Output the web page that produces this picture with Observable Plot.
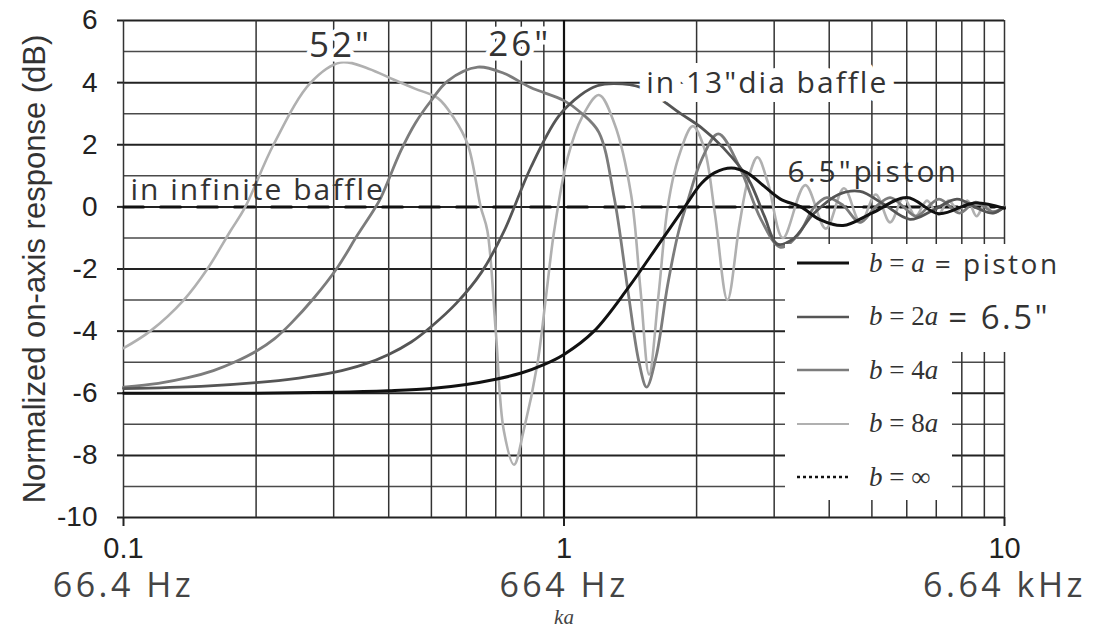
<!DOCTYPE html>
<html>
<head>
<meta charset="utf-8">
<script src="https://cdn.jsdelivr.net/npm/d3@7"></script>
<script src="https://cdn.jsdelivr.net/npm/@observablehq/plot@0.6"></script>
<style>
  body { margin: 0; background: #fff; }
  #chart { position: relative; width: 1098px; height: 627px; overflow: hidden; }
  .anno text { letter-spacing: 2px; }
  .anno-wide text { letter-spacing: 3px; }
  .freq text { letter-spacing: 3.5px; }
  .lg-bg { position: absolute; background: #fff; }
  .lg-row { position: absolute; display: flex; align-items: center; height: 40px; white-space: nowrap; }
  .lg-row svg { margin-right: 20px; }
  .lg-math { font-family: "Liberation Serif", "Times New Roman", serif; font-size: 27px; color: #333; }
  .lg-math i { font-style: italic; }
  .lg-note { font-family: "Open Sans", sans-serif; color: #333; margin-left: 10px; letter-spacing: 2.5px; }
</style>
</head>
<body>
<div id="chart"></div>
<script>
// ka = wavenumber × piston radius; response in dB, normalised on axis
// b = a : bare piston (6.5")
const kaPiston = [0.1, 0.2, 0.3, 0.4, 0.5, 0.6, 0.7, 0.8, 0.9, 1.0, 1.17, 1.4, 1.66, 1.88, 2.05, 2.2, 2.4, 2.6, 2.8, 3.1, 3.45, 3.8, 4.3, 5.0, 6.0, 7.1, 8.5, 10];
const dbPiston = [-6.0, -6.0, -5.97, -5.92, -5.85, -5.72, -5.55, -5.35, -5.08, -4.75, -4.0, -2.6, -1.1, 0, 0.75, 1.1, 1.25, 1.1, 0.75, 0.25, 0, -0.4, -0.6, -0.2, 0.3, -0.22, 0.12, -0.05];

// b = 2a : 13" diameter baffle
const ka2a = [0.1, 0.15, 0.2, 0.25, 0.3, 0.35, 0.4, 0.45, 0.5, 0.57, 0.65, 0.73, 0.84, 0.97, 1.09, 1.19, 1.3, 1.5, 1.84, 2.05, 2.3, 2.62, 2.85, 3.05, 3.3, 3.7, 4.2, 4.7, 5.3, 6.1, 6.9, 7.8, 8.7, 9.4, 10];
const db2a = [-5.85, -5.78, -5.66, -5.51, -5.33, -5.08, -4.75, -4.35, -3.85, -3.1, -2.1, -0.8, 1.26, 2.9, 3.6, 3.9, 3.97, 3.84, 3.0, 2.55, 1.9, 0.9, -0.3, -1.2, -1.05, -0.2, 0.4, 0.5, 0.1, -0.4, -0.1, 0.25, -0.05, -0.2, 0];

// b = 4a : 26" baffle
const ka4a = [0.1, 0.12, 0.14, 0.16, 0.18, 0.2, 0.22, 0.24, 0.27, 0.306, 0.34, 0.37, 0.384, 0.426, 0.46, 0.498, 0.545, 0.637, 0.73, 0.84, 1.0, 1.1, 1.2, 1.3, 1.4, 1.48, 1.54, 1.62, 1.72, 1.82, 1.91, 2.05, 2.24, 2.5, 2.8, 3.1, 3.4, 3.7, 3.95, 4.3, 4.7, 5.1, 5.5, 5.9, 6.3, 7.1, 7.9, 8.6, 9.4, 10];
const db4a = [-5.8, -5.68, -5.5, -5.27, -4.98, -4.65, -4.25, -3.75, -2.95, -1.95, -0.9, -0.1, 0.3, 1.8, 2.7, 3.4, 4.06, 4.5, 4.3, 3.84, 3.42, 3.0, 2.4, 0.3, -2.8, -5.0, -5.8, -4.8, -2.5, -0.8, 0.2, 1.5, 2.35, 1.3, -0.4, -1.3, -0.9, 0, 0.3, 0.05, -0.5, 0, 0.3, 0, -0.3, 0.25, -0.2, 0.15, -0.15, 0];

// b = 8a : 52" baffle
const ka8a = [0.1, 0.115, 0.137, 0.155, 0.175, 0.189, 0.219, 0.266, 0.311, 0.36, 0.41, 0.46, 0.517, 0.56, 0.605, 0.647, 0.67, 0.70, 0.73, 0.77, 0.81, 0.87, 0.91, 0.95, 1.02, 1.1, 1.2, 1.3, 1.42, 1.49, 1.56, 1.64, 1.72, 1.82, 1.96, 2.08, 2.2, 2.35, 2.5, 2.62, 2.75, 2.9, 3.14, 3.53, 3.93, 4.32, 4.71, 5.1, 5.5, 5.9, 6.28, 6.67, 7.07, 7.46, 7.85, 8.25, 8.64, 9.03, 9.42, 10];
const db8a = [-4.55, -4.0, -3.0, -2.0, -0.77, 0, 2.0, 4.0, 4.65, 4.45, 4.1, 3.8, 3.5, 2.9, 2.0, 0, -0.77, -4.0, -7.2, -8.3, -7.2, -5.06, -2.9, -0.77, 1.6, 2.9, 3.6, 2.7, 0.4, -2.6, -5.4, -2.8, 0, 1.6, 2.6, 1.9, -0.2, -3.0, -0.6, 0.9, 1.6, 0.8, -1.0, 0.7, -0.7, 0.6, -0.5, 0.4, -0.5, 0.3, -0.3, 0.2, -0.25, 0.2, -0.1, 0.2, -0.3, 0.1, -0.2, 0];

// b = ∞ : infinite baffle reference level
const kaInfinite = [0.1, 10];
const dbInfinite = [0, 0];

// axis ticks and labels
const xTicks = [0.1, 1, 10];
const xTickLabels = ["0.1", "1", "10"];
const freqLabels = ["66.4 Hz", "664 Hz", "6.64 kHz"];
const yTicks = [-10, -8, -6, -4, -2, 0, 2, 4, 6];
const yLabel = "Normalized on-axis response (dB)";
const xUnitLabel = "ka";

// logarithmic chart-paper grid
const gridX = [0.1, 0.2, 0.3, 0.4, 0.5, 0.6, 0.7, 0.8, 0.9, 1, 2, 3, 4, 5, 6, 7, 8, 9, 10];
const gridYMajor = [-10, -8, -6, -4, -2, 0, 2, 4, 6];
const gridYMinor = [-9, -7, -5, -3, -1, 1, 3, 5];

// labels placed beside the peak of each curve
const peakLabels = ["6.5\"piston", "in 13\"dia baffle", "26\"", "52\""];
const infiniteLabel = "in infinite baffle";

const toRows = (ka, db) => ka.map((k, i) => ({ka: k, db: db[i]}));
const piston = toRows(kaPiston, dbPiston);
const b2 = toRows(ka2a, db2a);
const b4 = toRows(ka4a, db4a);
const b8 = toRows(ka8a, db8a);
const inf = toRows(kaInfinite, dbInfinite);

const peak = (rows) => d3.greatest(rows, (d) => d.db);
const peaks = [peak(piston), peak(b2), peak(b4), peak(b8)];

const annoFont = "'Open Sans', sans-serif";
const halo = {stroke: "#fff", paintOrder: "stroke"};

const chart = Plot.plot({
  width: 1098,
  height: 627,
  marginLeft: 123,
  marginRight: 94,
  marginTop: 20,
  marginBottom: 110,
  x: {type: "log", domain: [0.1, 10]},
  y: {domain: [-10, 6]},
  style: {fontFamily: "'Liberation Sans', Arial, sans-serif", background: "#fff", overflow: "visible"},
  marks: [
    Plot.ruleY(gridYMinor, {stroke: "#4a4a4a", strokeWidth: 1.4}),
    Plot.ruleY(gridYMajor, {stroke: "#222", strokeWidth: 2}),
    Plot.ruleX(gridX, {stroke: "#333", strokeWidth: 1.5}),
    Plot.ruleX([1], {stroke: "#111", strokeWidth: 2.2}),
    Plot.line(inf, {x: "ka", y: "db", stroke: "#111", strokeWidth: 3, strokeDasharray: "20,17"}),
    Plot.line(b8, {x: "ka", y: "db", stroke: "#b0b0b0", strokeWidth: 2.6, curve: "catmull-rom"}),
    Plot.line(b4, {x: "ka", y: "db", stroke: "#7c7c7c", strokeWidth: 2.8, curve: "catmull-rom"}),
    Plot.line(b2, {x: "ka", y: "db", stroke: "#555", strokeWidth: 2.8, curve: "catmull-rom"}),
    Plot.line(piston, {x: "ka", y: "db", stroke: "#111", strokeWidth: 3, curve: "catmull-rom"}),
    // curve annotations
    Plot.text([peaks[3]], {x: "ka", y: "db", text: () => peakLabels[3], dy: -17, fontSize: 35, fontFamily: annoFont, fill: "#333", strokeWidth: 9, ...halo, className: "anno-wide"}),
    Plot.text([peaks[2]], {x: "ka", y: "db", text: () => peakLabels[2], dx: 42, dy: -22, fontSize: 35, fontFamily: annoFont, fill: "#333", strokeWidth: 9, ...halo, className: "anno-wide"}),
    Plot.text([peaks[1]], {x: "ka", y: "db", text: () => peakLabels[1], dx: 32, dy: 0, textAnchor: "start", fontSize: 30, fontFamily: annoFont, fill: "#333", strokeWidth: 18, ...halo, className: "anno"}),
    Plot.text([peaks[0]], {x: "ka", y: "db", text: () => peakLabels[0], dx: 56, dy: 4, textAnchor: "start", fontSize: 30, fontFamily: annoFont, fill: "#333", className: "anno-wide"}),
    Plot.text([inf[0]], {x: "ka", y: "db", text: () => infiniteLabel, dx: 7, dy: -7, textAnchor: "start", lineAnchor: "bottom", fontSize: 30, fontFamily: annoFont, fill: "#333", className: "anno"}),
    // axes
    Plot.axisY(yTicks, {tickSize: 6, tickPadding: 20, fontSize: 28, stroke: "#222", strokeWidth: 2, color: "#222", tickFormat: (d) => String(d), label: null}),
    Plot.axisX(xTicks, {tickSize: 9, stroke: "#222", strokeWidth: 2, tickFormat: () => "", label: null}),
    Plot.text(xTicks, {x: (d) => d, text: (d, i) => xTickLabels[i], frameAnchor: "bottom", dy: 40, fontSize: 29, fill: "#222"}),
    Plot.text(xTicks, {x: (d) => d, text: (d, i) => freqLabels[i], frameAnchor: "bottom", dy: 79, fontSize: 34, fontFamily: annoFont, fill: "#444", className: "freq"}),
    Plot.text([1], {x: (d) => d, text: () => xUnitLabel, frameAnchor: "bottom", dy: 106, fontSize: 21, fontStyle: "italic", fontFamily: "'Liberation Serif', serif", fill: "#444"}),
    Plot.text([yLabel], {text: (d) => d, frameAnchor: "left", textAnchor: "middle", rotate: -90, dx: -88, fontSize: 31, fill: "#333"})
  ]
});

const host = document.getElementById("chart");
host.appendChild(chart);

// legend panel drawn over the grid, lower right
const legendKeys = ["<i>b</i> = <i>a</i>", "<i>b</i> = 2<i>a</i>", "<i>b</i> = 4<i>a</i>", "<i>b</i> = 8<i>a</i>", "<i>b</i> = ∞"];
const legendNotes = ["= piston", "= 6.5\"", "", "", ""];
const legendColors = ["#111", "#555", "#7c7c7c", "#b0b0b0", "#111"];
const legendWidths = [3, 2.6, 2.6, 2.2, 2.4];
const legendDash = [null, null, null, null, "3,3"];
const legendNoteSize = [28, 33, 0, 0, 0];

[[785, 244, 313, 108], [785, 352, 167, 148]].forEach(([l, t, w, h]) => {
  const bg = document.createElement("div");
  bg.className = "lg-bg";
  Object.assign(bg.style, {left: l + "px", top: t + "px", width: w + "px", height: h + "px"});
  host.appendChild(bg);
});

legendKeys.forEach((key, i) => {
  const row = document.createElement("div");
  row.className = "lg-row";
  row.style.left = "797px";
  row.style.top = (243 + i * 53.5) + "px";
  const sw = d3.create("svg").attr("width", 52).attr("height", 10);
  sw.append("line").attr("x1", 0).attr("x2", 52).attr("y1", 5).attr("y2", 5)
    .attr("stroke", legendColors[i]).attr("stroke-width", legendWidths[i])
    .attr("stroke-dasharray", legendDash[i]);
  row.appendChild(sw.node());
  const m = document.createElement("span");
  m.className = "lg-math";
  m.innerHTML = key;
  row.appendChild(m);
  if (legendNotes[i]) {
    const n = document.createElement("span");
    n.className = "lg-note";
    n.style.fontSize = legendNoteSize[i] + "px";
    n.textContent = legendNotes[i];
    row.appendChild(n);
  }
  host.appendChild(row);
});
</script>
</body>
</html>
